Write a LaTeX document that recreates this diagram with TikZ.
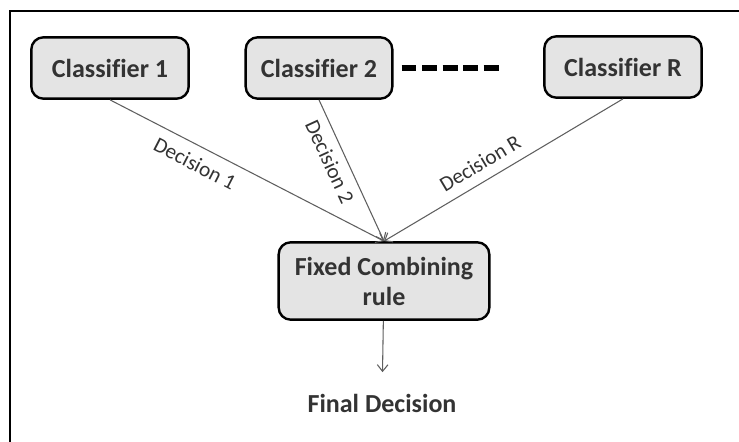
\documentclass[tikz,border=0pt]{standalone}
\usepackage{fontspec}
\setmainfont{Carlito}[Ligatures=NoCommon]
\usetikzlibrary{arrows.meta}
\definecolor{BoxGray}{RGB}{228,228,228}
\definecolor{InkGray}{RGB}{51,51,51}
\definecolor{WireGray}{RGB}{95,95,95}

\tikzset{
  clf/.style={draw=black, line width=1.8pt, rounded corners=9pt, fill=BoxGray,
    text=InkGray, font=\fontsize{19.5}{22.5}\selectfont\bfseries,
    minimum height=46pt, align=center},
  wire/.style={draw=WireGray, line width=0.8pt,
    -{Straight Barb[length=5pt,width=8pt]}},
  dlabel/.style={sloped, inner sep=7.5pt, text=InkGray,
    font=\fontsize{16}{19}\selectfont},
}

\begin{document}
\begin{tikzpicture}[x=0.75pt,y=-0.75pt]
      \useasboundingbox (0,0) rectangle (739,442);
      \draw[line width=1.5pt] (10,442) -- (10,11) -- (739,11);
      % the R classifiers
      \node[clf, minimum width=118pt] (c1) at (110,68) {Classifier 1};
      \node[clf, minimum width=110pt] (c2) at (319,68) {Classifier 2};
      \node[clf, minimum width=118pt] (cR) at (623,67) {Classifier R};
      \draw[line width=3.8pt, dash pattern=on 11.2pt off 4.2pt]
        ([xshift=6pt]c2.east) -- ++(73pt,0);
      % combiner and its output
      \node[clf, minimum width=158pt, minimum height=58pt] (comb) at (384,281)
        {Fixed Combining\\rule};
      \node[text=InkGray, inner sep=16pt, font=\fontsize{19.5}{22.5}\selectfont\bfseries]
        (final) at (382,403) {Final Decision};
      \draw[wire] (c1.south) -- node[dlabel, below, pos=0.34] (d1) {Decision 1} (comb.north);
      \draw[wire] (c2.south) -- node[dlabel, below, inner sep=6pt, pos=0.39] (d2) {Decision 2} (comb.north);
      \draw[wire] (cR.south) -- node[dlabel, above, pos=0.56] (dR) {Decision R} (comb.north);
      \draw[wire] (comb) -- (final);
\end{tikzpicture}
\end{document}
